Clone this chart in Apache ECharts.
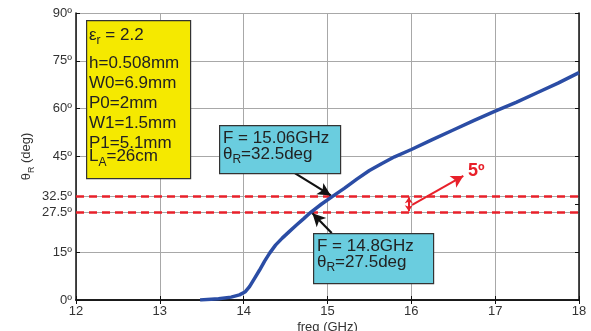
<!DOCTYPE html>
<html><head><meta charset="utf-8">
<script src="https://cdn.jsdelivr.net/npm/echarts@6/dist/echarts.min.js"></script>
<style>html,body{margin:0;padding:0;background:#fff}#c{width:591px;height:331px}</style>
</head><body><div id="c"></div>
<script>
const freq = [13.48, 13.7, 13.85, 13.95, 14.02, 14.07, 14.13, 14.19, 14.25, 14.31, 14.38, 14.46, 14.55, 14.63, 14.72, 14.8, 14.93, 15.06, 15.2, 15.35, 15.5, 15.65, 15.8, 16.0, 16.25, 16.5, 16.75, 17.0, 17.25, 17.5, 17.75, 18.0];
const theta = [0, 0.4, 0.9, 1.6, 2.6, 4.2, 6.8, 9.4, 12.2, 14.7, 17.2, 19.4, 21.6, 23.5, 25.6, 27.5, 30.1, 32.5, 35.0, 37.9, 40.6, 42.8, 44.9, 47.2, 50.3, 53.3, 56.3, 59.2, 62.0, 65.0, 68.0, 71.3];
const refLevels = [27.5, 32.5];
const xTicks = [12, 13, 14, 15, 16, 17, 18];
const yTickLabels = [0, 15, 27.5, 32.5, 45, 60, 75, 90];
const markA = [15.06, 32.5];
const markB = [14.8, 27.5];

const chart = echarts.init(document.getElementById('c'), null, {renderer: 'canvas'});
const FONT = 'Liberation Sans';
const axisCommon = {
  axisLine: {show: true, lineStyle: {color: '#111', width: 1.5}},
  axisTick: {show: true, inside: true, length: 4, lineStyle: {color: '#111'}},
};
const subRich = (size, pad) => ({
  a: {fontFamily: FONT, fontSize: size, fill: '#222', color: '#222'},
  s: {fontFamily: FONT, fontSize: 12, fill: '#222', color: '#222', padding: [pad, 0, 0, 0]}
});
const option = {
  animation: false,
  backgroundColor: '#fff',
  grid: {left: 76, right: 12, top: 13, bottom: 31, outerBoundsMode: 'none'},
  xAxis: [{
    type: 'value', min: xTicks[0], max: xTicks[xTicks.length - 1], interval: 1,
    ...axisCommon,
    axisLabel: {color: '#333', fontFamily: FONT, fontSize: 13, margin: 5},
    splitLine: {show: true, lineStyle: {color: '#a8a8a8', width: 1}},
    name: 'freq (GHz)', nameLocation: 'middle', nameGap: 21, nameMoveOverlap: false,
    nameTextStyle: {color: '#333', fontFamily: FONT, fontSize: 13}
  }, {
    type: 'value', position: 'top', min: 12, max: 18, interval: 1,
    ...axisCommon, axisLabel: {show: false}, splitLine: {show: false}
  }],
  yAxis: [{
    type: 'value', min: 0, max: 90, interval: 15,
    ...axisCommon,
    axisTick: {show: true, inside: true, length: 4, lineStyle: {color: '#111'}, customValues: yTickLabels},
    axisLabel: {color: '#333', fontFamily: FONT, fontSize: 13, margin: 4, customValues: yTickLabels,
      formatter: v => v + 'º'},
    splitLine: {show: true, lineStyle: {color: '#a8a8a8', width: 1}},
    name: '{t|θ}{s|R}{t| (deg)}', nameLocation: 'middle', nameGap: 40, nameRotate: 90,
    nameMoveOverlap: false,
    nameTextStyle: {rich: {
      t: {color: '#333', fontFamily: FONT, fontSize: 13},
      s: {color: '#333', fontFamily: FONT, fontSize: 9, padding: [10, 0, 0, 0]}
    }}
  }, {
    type: 'value', position: 'right', min: 0, max: 90, interval: 15,
    ...axisCommon, axisLabel: {show: false}, splitLine: {show: false}
  }],
  series: [{
    type: 'line', xAxisIndex: 0, yAxisIndex: 0,
    data: freq.map((f, i) => [f, theta[i]]),
    showSymbol: false, symbol: 'none',
    lineStyle: {color: '#2B4DA5', width: 3.5},
    z: 5,
    markLine: {
      silent: true, symbol: 'none', label: {show: false},
      lineStyle: {color: '#E8202A', width: 2.5, type: [8, 5]},
      data: refLevels.map(v => ({yAxis: v}))
    }
  }, {
    type: 'line', data: [], xAxisIndex: 0, yAxisIndex: 0,
    markLine: {
      silent: true, label: {show: false}, symbol: ['none', 'arrow'], symbolSize: [10, 13],
      lineStyle: {color: '#111', width: 2.2, type: 'solid'},
      data: [
        [{coord: [14.61, 39.8]}, {coord: [markA[0] - 0.02, markA[1] + 0.3]}],
        [{coord: [15.05, 21.0]}, {coord: [markB[0] + 0.02, markB[1] - 0.3]}]
      ]
    },
    z: 6
  }, {
    type: 'line', data: [], xAxisIndex: 0, yAxisIndex: 0,
    markLine: {
      silent: true, label: {show: false}, symbol: ['arrow', 'arrow'], symbolSize: [6, 6],
      lineStyle: {color: '#E8202A', width: 2, type: 'solid'},
      data: [
        [{coord: [15.97, 27.8]}, {coord: [15.97, 32.2]}]
      ]
    },
    z: 6
  }, {
    type: 'line', data: [], xAxisIndex: 0, yAxisIndex: 0,
    markLine: {
      silent: true, label: {show: false}, symbol: ['none', 'arrow'], symbolSize: [10, 12],
      lineStyle: {color: '#E8202A', width: 2, type: 'solid'},
      data: [
        [{coord: [16.01, 29.8]}, {coord: [16.62, 38.9]}]
      ]
    },
    z: 6
  }],
  graphic: [
    {type: 'rect', left: 86, top: 20, shape: {width: 104, height: 158},
      style: {fill: '#F5E900', stroke: '#333', lineWidth: 1.2}, z: 10},
    {type: 'text', left: 89, top: 27, z: 11, style: {
      text: '{a|ε}{s|r}{a| = 2.2}', rich: subRich(17, 11)}},
    {type: 'text', left: 89, top: 53, z: 11, style: {
      text: 'h=0.508mm\nW0=6.9mm\nP0=2mm\nW1=1.5mm\nP1=5.1mm',
      font: '17px "Liberation Sans"', fill: '#222', lineHeight: 20}},
    {type: 'text', left: 89, top: 148, z: 11, style: {
      text: '{a|L}{s|A}{a|=26cm}', rich: subRich(17, 13)}},

    {type: 'rect', left: 219, top: 125, shape: {width: 121, height: 48},
      style: {fill: '#6ACDDF', stroke: '#333', lineWidth: 1.2}, z: 10},
    {type: 'text', left: 223, top: 130, z: 11, style: {
      text: 'F = 15.06GHz', font: '17px "Liberation Sans"', fill: '#222'}},
    {type: 'text', left: 223, top: 146, z: 11, style: {
      text: '{a|θ}{s|R}{a|=32.5deg}', rich: subRich(17, 11)}},

    {type: 'rect', left: 313, top: 233, shape: {width: 120, height: 50},
      style: {fill: '#6ACDDF', stroke: '#333', lineWidth: 1.2}, z: 10},
    {type: 'text', left: 317, top: 238, z: 11, style: {
      text: 'F = 14.8GHz', font: '17px "Liberation Sans"', fill: '#222'}},
    {type: 'text', left: 317, top: 254, z: 11, style: {
      text: '{a|θ}{s|R}{a|=27.5deg}', rich: subRich(17, 11)}},

    {type: 'text', left: 468, top: 162, z: 11, style: {
      text: '5º', font: 'bold 18px "Liberation Sans"', fill: '#E8202A'}}
  ]
};
chart.setOption(option);
</script>
</body></html>
